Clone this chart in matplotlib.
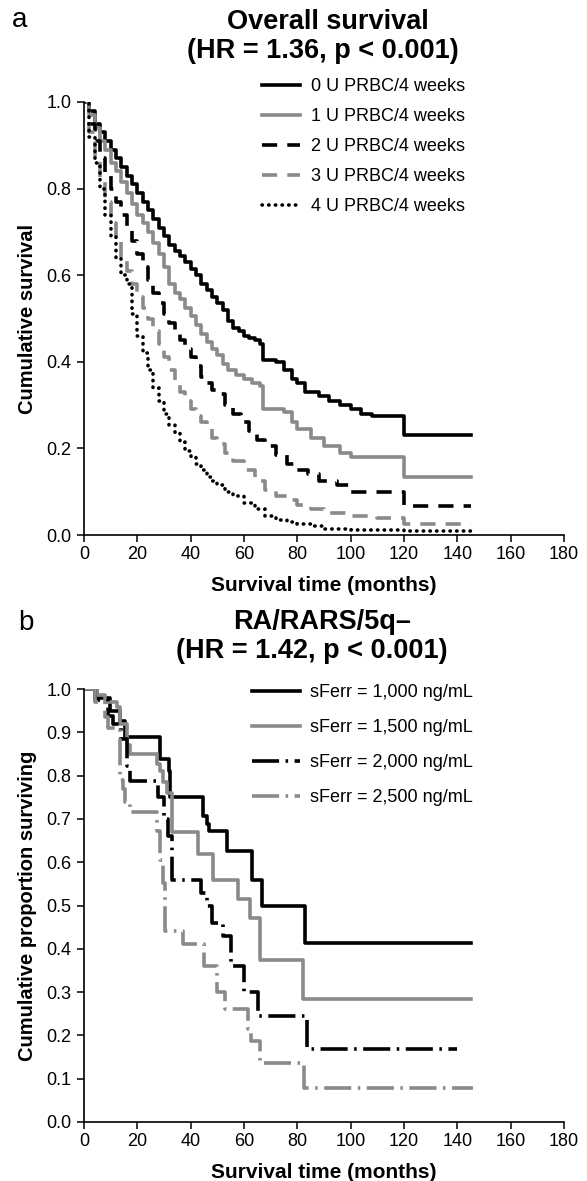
import matplotlib
matplotlib.use("Agg")
import matplotlib.pyplot as plt

plt.rcParams['font.family'] = ['Liberation Sans', 'DejaVu Sans']

# ---------------- Panel a data ----------------
t0 = [0, 2, 4, 6, 8, 10, 12, 14, 16, 18, 20, 22, 24, 26, 28, 30, 32, 34, 36, 38, 40, 42, 44, 46, 48, 50,
      52, 54, 56, 58, 60, 62, 64, 66, 67, 72, 75, 78, 80, 83, 88, 92, 96, 100, 104, 108, 120, 145]
s0 = [1.0, 0.98, 0.95, 0.93, 0.91, 0.89, 0.87, 0.85, 0.83, 0.81, 0.79, 0.77, 0.75, 0.73, 0.71, 0.69, 0.67,
      0.655, 0.645, 0.63, 0.615, 0.60, 0.58, 0.565, 0.55, 0.535, 0.52, 0.495, 0.478, 0.47, 0.46, 0.455, 0.45,
      0.44, 0.405, 0.40, 0.38, 0.36, 0.35, 0.33, 0.32, 0.31, 0.30, 0.29, 0.28, 0.275, 0.23, 0.23]

t1 = [0, 2, 4, 6, 8, 10, 12, 14, 16, 18, 20, 22, 24, 26, 28, 30, 32, 34, 36, 38, 40, 42, 44, 46, 48, 50,
      52, 54, 57, 60, 63, 66, 67, 75, 78, 80, 85, 90, 96, 100, 120, 145]
s1 = [1.0, 0.97, 0.94, 0.91, 0.89, 0.86, 0.84, 0.815, 0.79, 0.765, 0.74, 0.72, 0.70, 0.675, 0.65, 0.62, 0.58,
      0.56, 0.545, 0.525, 0.505, 0.485, 0.465, 0.445, 0.43, 0.415, 0.395, 0.38, 0.37, 0.36, 0.35, 0.345, 0.29,
      0.285, 0.26, 0.245, 0.225, 0.205, 0.19, 0.18, 0.135, 0.135]

t2 = [0, 2, 4, 6, 8, 10, 12, 14, 16, 18, 20, 22, 24, 26, 28, 30, 32, 34, 36, 38, 40, 42, 44, 46, 48, 50,
      53, 56, 59, 62, 65, 68, 72, 76, 80, 84, 88, 95, 100, 120, 145]
s2 = [1.0, 0.95, 0.91, 0.87, 0.83, 0.80, 0.77, 0.74, 0.71, 0.68, 0.65, 0.62, 0.59, 0.56, 0.535, 0.51, 0.49,
      0.47, 0.45, 0.43, 0.41, 0.39, 0.365, 0.35, 0.335, 0.325, 0.30, 0.28, 0.26, 0.24, 0.22, 0.205, 0.185,
      0.165, 0.15, 0.14, 0.125, 0.115, 0.10, 0.067, 0.067]

t3 = [0, 2, 4, 6, 8, 10, 12, 14, 16, 18, 20, 22, 24, 26, 28, 30, 32, 34, 36, 38, 40, 42, 44, 46, 48, 50,
      53, 56, 60, 64, 68, 72, 76, 80, 85, 90, 100, 110, 120, 145]
s3 = [1.0, 0.93, 0.87, 0.82, 0.77, 0.72, 0.68, 0.64, 0.61, 0.58, 0.55, 0.525, 0.50, 0.47, 0.44, 0.41, 0.38,
      0.355, 0.33, 0.31, 0.29, 0.275, 0.26, 0.245, 0.225, 0.21, 0.19, 0.17, 0.15, 0.125, 0.105, 0.09, 0.08,
      0.07, 0.06, 0.05, 0.045, 0.04, 0.025, 0.025]

t4 = [0, 2, 4, 6, 8, 10, 12, 14, 16, 18, 20, 22, 24, 26, 28, 30, 32, 34, 36, 38, 40, 42, 44, 46, 48, 50,
      53, 56, 60, 64, 68, 72, 76, 80, 85, 90, 100, 120, 145]
s4 = [1.0, 0.92, 0.86, 0.80, 0.74, 0.69, 0.64, 0.60, 0.58, 0.51, 0.46, 0.42, 0.38, 0.34, 0.31, 0.28, 0.255,
      0.235, 0.215, 0.195, 0.18, 0.165, 0.15, 0.135, 0.125, 0.115, 0.10, 0.09, 0.075, 0.06, 0.045, 0.035,
      0.03, 0.025, 0.02, 0.015, 0.012, 0.01, 0.008]

labels_a = ["0 U PRBC/4 weeks", "1 U PRBC/4 weeks", "2 U PRBC/4 weeks",
            "3 U PRBC/4 weeks", "4 U PRBC/4 weeks"]

# ---------------- Panel b data ----------------
tb0 = [0, 5, 9.7, 13.5, 15.4, 28.5, 31.7, 32.2, 44.7, 46, 47, 53.5, 63, 66.6, 83, 145]
sb0 = [1.0, 0.98, 0.95, 0.927, 0.889, 0.838, 0.81, 0.75, 0.707, 0.688, 0.672, 0.626, 0.56, 0.498, 0.414, 0.414]

tb1 = [0, 5, 7.9, 12.2, 13.5, 16, 17.2, 27.2, 28.5, 29.7, 31, 32.9, 42.8, 48.5, 57.9, 62.2, 66, 82, 145]
sb1 = [1.0, 0.985, 0.97, 0.958, 0.92, 0.87, 0.85, 0.826, 0.81, 0.785, 0.76, 0.669, 0.618, 0.56, 0.514, 0.47,
       0.375, 0.285, 0.285]

tb2 = [0, 4, 9.1, 11, 14, 16, 17.2, 27.8, 30, 31.5, 33, 44, 46, 48, 52, 55, 60, 65.4, 83.5, 140]
sb2 = [1.0, 0.975, 0.938, 0.92, 0.884, 0.822, 0.788, 0.75, 0.70, 0.66, 0.56, 0.53, 0.50, 0.46, 0.43, 0.36,
       0.30, 0.245, 0.168, 0.168]

tb3 = [0, 4, 7.9, 9, 13.5, 14.5, 15.5, 17.2, 27.2, 28.5, 29.5, 30.5, 37, 45, 50, 53, 61.4, 62.5, 66, 82.5, 146]
sb3 = [1.0, 0.97, 0.935, 0.91, 0.79, 0.768, 0.74, 0.715, 0.672, 0.606, 0.553, 0.44, 0.41, 0.36, 0.30, 0.26,
       0.214, 0.187, 0.137, 0.079, 0.079]

labels_b = ["sFerr = 1,000 ng/mL", "sFerr = 1,500 ng/mL", "sFerr = 2,000 ng/mL", "sFerr = 2,500 ng/mL"]

xticks = [0, 20, 40, 60, 80, 100, 120, 140, 160, 180]
yticks_a = [0.0, 0.2, 0.4, 0.6, 0.8, 1.0]
yticks_b = [0.0, 0.1, 0.2, 0.3, 0.4, 0.5, 0.6, 0.7, 0.8, 0.9, 1.0]

BLACK = "#000000"
GREY = "#8a8a8a"
LW = 2.6

W, H = 587, 1181
fig = plt.figure(figsize=(W / 100, H / 100), dpi=100)


def ax_rect(x0, x1, ytop, ybot):
    return [x0 / W, 1 - ybot / H, (x1 - x0) / W, (ybot - ytop) / H]


def style_axes(ax, yticks, ylabel):
    ax.set_xlim(0, 180)
    ax.set_ylim(0, 1.0)
    ax.set_xticks(xticks)
    ax.set_yticks(yticks)
    ax.set_yticklabels([f"{v:.1f}" for v in yticks])
    for sp in ("top", "right"):
        ax.spines[sp].set_visible(False)
    for sp in ("left", "bottom"):
        ax.spines[sp].set_linewidth(1.2)
    ax.tick_params(direction="out", length=5, width=1.1, labelsize=13)
    ax.tick_params(axis="y", pad=4)
    ax.tick_params(axis="x", pad=3)
    ax.set_xlabel("Survival time (months)", fontsize=15, fontweight="bold", labelpad=9)
    ax.set_ylabel(ylabel, fontsize=14.5, fontweight="bold", labelpad=7)


# ---------------- Panel a ----------------
axa = fig.add_axes(ax_rect(84, 564, 102, 535))
styles_a = [
    dict(color=BLACK, linestyle="-"),
    dict(color=GREY, linestyle="-"),
    dict(color=BLACK, linestyle=(0, (4.2, 2.8))),
    dict(color=GREY, linestyle=(0, (4.2, 2.8))),
    dict(color=BLACK, linestyle=(0, (0.1, 1.75)), dash_capstyle="round"),
]
for t, s, st, lab in zip([t0, t1, t2, t3, t4], [s0, s1, s2, s3, s4], styles_a, labels_a):
    axa.plot(t, s, drawstyle="steps-post", linewidth=LW, label=lab, **st)
style_axes(axa, yticks_a, "Cumulative survival")
axa.legend(loc="upper left", bbox_to_anchor=(262 / W, 1 - 78 / H), bbox_transform=fig.transFigure,
           frameon=False, fontsize=13, handlelength=2.1, handletextpad=0.6, labelspacing=0.72,
           borderpad=0, borderaxespad=0)

fig.text(20 / W, 1 - 20 / H, "a", fontsize=20, ha="center", va="center")
fig.text(328 / W, 1 - 22 / H, "Overall survival", fontsize=19.5, fontweight="bold", ha="center", va="center")
fig.text(323 / W, 1 - 51 / H, "(HR = 1.36, p < 0.001)", fontsize=19.5, fontweight="bold", ha="center",
         va="center")

# ---------------- Panel b ----------------
axb = fig.add_axes(ax_rect(84, 564, 689, 1122))
dashdot = (0, (7.5, 1.8, 0.7, 1.8))
styles_b = [
    dict(color=BLACK, linestyle="-"),
    dict(color=GREY, linestyle="-"),
    dict(color=BLACK, linestyle=dashdot),
    dict(color=GREY, linestyle=dashdot),
]
for t, s, st, lab in zip([tb0, tb1, tb2, tb3], [sb0, sb1, sb2, sb3], styles_b, labels_b):
    axb.plot(t, s, drawstyle="steps-post", linewidth=LW, label=lab, **st)
style_axes(axb, yticks_b, "Cumulative proportion surviving")
axb.legend(loc="upper left", bbox_to_anchor=(252 / W, 1 - 684 / H), bbox_transform=fig.transFigure,
           frameon=False, fontsize=13, handlelength=2.65, handletextpad=0.55, labelspacing=1.0,
           borderpad=0, borderaxespad=0)

fig.text(26 / W, 1 - 623 / H, "b", fontsize=20, ha="center", va="center")
fig.text(322 / W, 1 - 622 / H, "RA/RARS/5q\u2013", fontsize=19.5, fontweight="bold", ha="center", va="center")
fig.text(312 / W, 1 - 651 / H, "(HR = 1.42, p < 0.001)", fontsize=19.5, fontweight="bold", ha="center",
         va="center")

fig.savefig("out.png", dpi=100)
